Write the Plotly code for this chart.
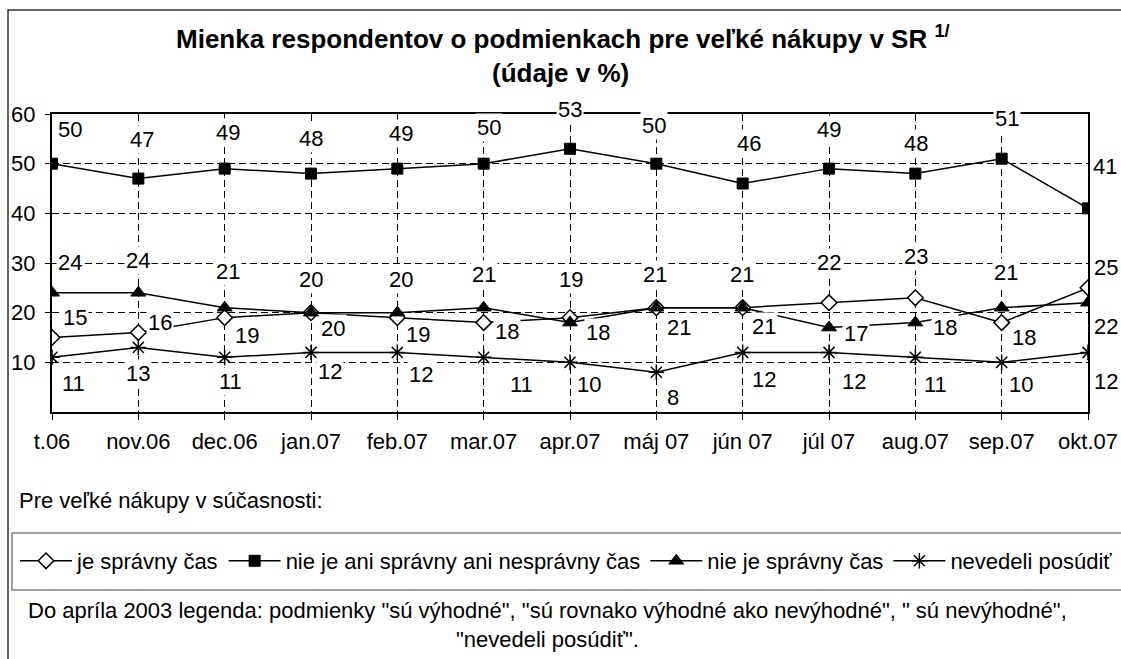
import plotly.graph_objects as go

# ---------------- data ----------------
categories = ["t.06", "nov.06", "dec.06", "jan.07", "feb.07", "mar.07", "apr.07",
              "máj 07", "jún 07", "júl 07", "aug.07", "sep.07", "okt.07"]
je_spravny = [15, 16, 19, 20, 19, 18, 19, 21, 21, 22, 23, 18, 25]
ani_ani = [50, 47, 49, 48, 49, 50, 53, 50, 46, 49, 48, 51, 41]
nie_je = [24, 24, 21, 20, 20, 21, 18, 21, 21, 17, 18, 21, 22]
nevedeli = [11, 13, 11, 12, 12, 11, 10, 8, 12, 12, 11, 10, 12]
y_tick_values = [10, 20, 30, 40, 50, 60]
series_names = ["je správny čas", "nie je ani správny ani nesprávny čas",
                "nie je správny čas", "nevedeli posúdiť"]

title_line1 = "Mienka respondentov o podmienkach pre veľké nákupy v SR"
title_sup = "1/"
title_line2 = "(údaje v %)"
legend_heading = "Pre veľké nákupy v súčasnosti:"
note_line1 = 'Do apríla 2003 legenda: podmienky "sú výhodné", "sú rovnako výhodné ako nevýhodné", " sú nevýhodné",'
note_line2 = '"nevedeli posúdiť".'

# ---------------- label offsets (pixels: dx right, dy down) ----------------
je_dx = [23, 22, 22, 22, 21, 23, 1, 23, 21, 0, 1, 22, 18]
je_dy = [-20, -10, 18, 16, 17, 9, -38, 20, 19, -40, -41, 15, -20]
ani_dx = [18, 4, 3, 0, 4, 5, 0, -2, 6, 0, 1, 5, 17]
ani_dy = [-34, -39, -36, -35, -35, -36, -39, -38, -40, -39, -30, -40, -42]
nie_dx = [18, 0, 3, 0, 4, 0, 28, -1, -1, 27, 30, 4, 18]
nie_dy = [-30, -32, -36, -33, -33, -33, 10, -33, -33, 6, 5, -35, 24]
nev_dx = [21, 0, 6, 19, 24, 38, 19, 17, 21, 25, 20, 19, 18]
nev_dy = [26, 26, 24, 19, 22, 27, 22, 25, 27, 29, 27, 22, 29]

# ---------------- layout geometry ----------------
W, H = 1121, 659
ML, MT = 52, 114
PLOT_W_FULL = W - ML          # plotting region width (margin r = 0)
PLOT_RIGHT = 1088             # right edge of axes box in px
PLOT_BOTTOM = 412
PLOT_H = PLOT_BOTTOM - MT
MB = H - PLOT_BOTTOM


def px_x(p):
    return (p - ML) / PLOT_W_FULL


def px_y(p):
    return (PLOT_BOTTOM - p) / PLOT_H


FONT = "Liberation Sans, Arial, sans-serif"
FS = 22
GRID_DASH = "7px,4px"

fig = go.Figure()

line_style = dict(color="black", width=1.5)
fig.add_trace(go.Scatter(
    x=categories, y=je_spravny, name=series_names[0], mode="lines+markers",
    line=line_style,
    marker=dict(symbol="diamond", size=12, color="white", line=dict(color="black", width=1.5))))
fig.add_trace(go.Scatter(
    x=categories, y=ani_ani, name=series_names[1], mode="lines+markers",
    line=line_style,
    marker=dict(symbol="square", size=11, color="black", line=dict(color="black", width=1))))
fig.add_trace(go.Scatter(
    x=categories, y=nie_je, name=series_names[2], mode="lines+markers",
    line=line_style,
    marker=dict(symbol="triangle-up", size=13, color="black", line=dict(color="black", width=1))))
fig.add_trace(go.Scatter(
    x=categories, y=nevedeli, name=series_names[3], mode="lines+markers",
    line=line_style,
    marker=dict(symbol="asterisk-open", size=13, color="black", line=dict(color="black", width=1.5))))

annotations = []
for vals, dxs, dys in [(je_spravny, je_dx, je_dy), (ani_ani, ani_dx, ani_dy),
                       (nie_je, nie_dx, nie_dy), (nevedeli, nev_dx, nev_dy)]:
    for c, v, dx, dy in zip(categories, vals, dxs, dys):
        annotations.append(dict(
            x=c, y=v, xref="x", yref="y", text=str(v), showarrow=False,
            xshift=dx, yshift=-dy, xanchor="center", yanchor="middle",
            bgcolor="white", borderpad=1,
            font=dict(family=FONT, size=FS, color="black")))

# titles
annotations.append(dict(
    x=px_x(563), y=px_y(38), xref="paper", yref="paper", showarrow=False,
    xanchor="center", yanchor="middle",
    text=f"<b>{title_line1} <sup>{title_sup}</sup></b>",
    font=dict(family=FONT, size=26, color="black")))
annotations.append(dict(
    x=px_x(560), y=px_y(73), xref="paper", yref="paper", showarrow=False,
    xanchor="center", yanchor="middle",
    text=f"<b>{title_line2}</b>",
    font=dict(family=FONT, size=26, color="black")))
annotations.append(dict(
    x=px_x(17), y=px_y(500), xref="paper", yref="paper", showarrow=False,
    xanchor="left", yanchor="middle", text=legend_heading,
    font=dict(family=FONT, size=FS, color="black")))
annotations.append(dict(
    x=px_x(547), y=px_y(610), xref="paper", yref="paper", showarrow=False,
    xanchor="center", yanchor="middle", text=note_line1,
    font=dict(family=FONT, size=FS, color="black")))
annotations.append(dict(
    x=px_x(547), y=px_y(639), xref="paper", yref="paper", showarrow=False,
    xanchor="center", yanchor="middle", text=note_line2,
    font=dict(family=FONT, size=FS, color="black")))

shapes = [
    # outer frame (left and top edges visible)
    dict(type="rect", xref="paper", yref="paper",
         x0=px_x(8), x1=px_x(1400), y0=px_y(10), y1=px_y(900),
         line=dict(color="#333333", width=1.5), fillcolor="rgba(0,0,0,0)", layer="below"),
    # legend box
    dict(type="rect", xref="paper", yref="paper",
         x0=px_x(12), x1=px_x(1400), y0=px_y(533), y1=px_y(590),
         line=dict(color="#808080", width=1.5), fillcolor="rgba(0,0,0,0)", layer="below"),
]

fig.update_layout(
    width=W, height=H,
    margin=dict(l=ML, r=0, t=MT, b=MB, autoexpand=False),
    paper_bgcolor="white", plot_bgcolor="white",
    font=dict(family=FONT, size=FS, color="black"),
    showlegend=True,
    legend=dict(orientation="h", x=px_x(15), xanchor="left", y=px_y(561), yanchor="middle",
                itemwidth=52, font=dict(family=FONT, size=FS, color="black"),
                bgcolor="rgba(0,0,0,0)", borderwidth=0, traceorder="normal"),
    annotations=annotations,
    shapes=shapes,
)

fig.update_xaxes(
    type="category", categoryorder="array", categoryarray=categories,
    range=[0, len(categories) - 1],
    domain=[0, (PLOT_RIGHT - ML) / PLOT_W_FULL],
    showline=True, linecolor="black", linewidth=1.5, mirror=True,
    ticks="outside", ticklen=6, tickcolor="black", tickwidth=1,
    showgrid=True, gridcolor="black", gridwidth=1, griddash=GRID_DASH,
    ticklabelstandoff=3,
    tickfont=dict(family=FONT, size=FS, color="black"),
    fixedrange=True,
)
fig.update_yaxes(
    range=[0, 60], tickvals=y_tick_values,
    showline=True, linecolor="black", linewidth=2, mirror=True,
    ticks="outside", ticklen=5, tickcolor="black", tickwidth=1,
    showgrid=True, gridcolor="black", gridwidth=1, griddash=GRID_DASH,
    zeroline=False, ticklabelstandoff=5,
    tickfont=dict(family=FONT, size=FS, color="black"),
    fixedrange=True,
)

fig.write_html(
    "out.html",
    config={"displayModeBar": False},
    post_script="document.body.style.margin='0px';document.body.style.overflow='hidden';",
)
